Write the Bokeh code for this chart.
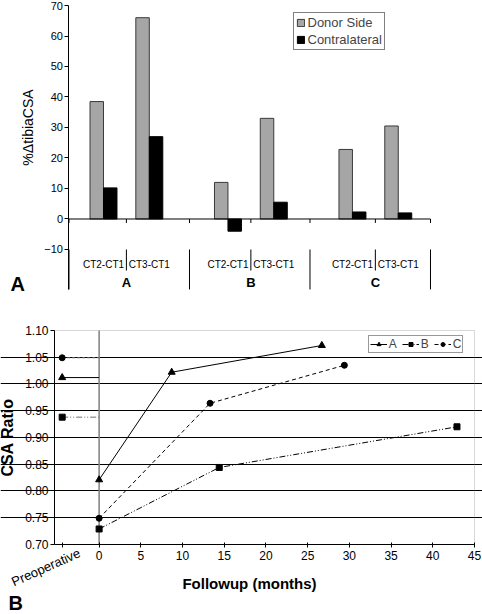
from math import pi
from bokeh.plotting import figure
from bokeh.models import (Range1d, FixedTicker, NumeralTickFormatter,
                          CustomJSTickFormatter, Legend, LegendItem, Label,
                          ColumnDataSource, BoxAnnotation)
from bokeh.layouts import column
from bokeh.core.properties import value
from bokeh.embed import file_html
from bokeh.resources import INLINE

FONT = "Liberation Sans"

# ---------------- Panel A data ----------------
GROUPS = ["A", "B", "C"]
INTERVALS = ["CT2-CT1", "CT3-CT1"]
DONOR = [38.5, 66.0, 12.0, 33.0, 22.8, 30.5]
CONTRA = [10.2, 27.0, -4.0, 5.5, 2.3, 2.0]
A_TICKS = [-10, 0, 10, 20, 30, 40, 50, 60, 70]

# ---------------- Panel B data ----------------
PREOP_X = -4.43
MONTH_TICKS = [0, 5, 10, 15, 20, 25, 30, 35, 40, 45]
RATIO_TICKS = [0.70, 0.75, 0.80, 0.85, 0.90, 0.95, 1.00, 1.05, 1.10]
GRID_TICKS = [0.75, 0.80, 0.85, 0.90, 0.95, 1.00, 1.05]
SERIES = ["A", "B", "C"]
A_MONTHS = [0, 8.7, 26.7]
A_RATIO = [0.821, 1.022, 1.072]
A_PREOP = 1.012
B_MONTHS = [0, 14.4, 42.9]
B_RATIO = [0.729, 0.844, 0.920]
B_PREOP = 0.938
C_MONTHS = [0, 13.3, 29.4]
C_RATIO = [0.749, 0.964, 1.035]
C_PREOP = 1.049

# ================= Panel A =================
# layout of the category axis (in "slot" units)
FIRST = 0.78        # centre of first bar pair from the axis
SUB_STEP = 1.036    # distance between the two interval pairs of a group
GROUP_STEP = 2.815  # distance between groups (bars)
GW = 2.725          # width of one group cell (separators)
YMIN_A, YMAX_A = A_TICKS[0], A_TICKS[-1]
Y_SEP = -23.1

centers, sub_labels = [], []
for gi, g in enumerate(GROUPS):
    for si, s in enumerate(INTERVALS):
        centers.append(FIRST + gi * GROUP_STEP + si * SUB_STEP)
        sub_labels.append(s)
group_bounds = [gi * GW for gi in range(len(GROUPS) + 1)]
mid_bounds = [FIRST + gi * GROUP_STEP + SUB_STEP / 2 for gi in range(len(GROUPS))]
XEND = group_bounds[-1]

pa = figure(width=482, height=298, x_range=Range1d(-1.549, 9.351),
            y_range=Range1d(-26.07, 71.64), output_backend="svg",
            toolbar_location=None, x_axis_location=None, title=None,
            min_border=0, min_border_left=0, min_border_right=0,
            min_border_top=0, min_border_bottom=0, frame_align=False)
pa.outline_line_color = None
pa.grid.visible = False

ya = pa.yaxis[0]
ya.fixed_location = 0
ya.bounds = (Y_SEP, YMAX_A)
ya.ticker = FixedTicker(ticks=A_TICKS)
ya.axis_line_color = "black"
ya.major_tick_out = 4
ya.major_tick_in = 0
ya.minor_tick_line_color = None
ya.major_tick_line_color = "black"
ya.major_label_standoff = 2
ya.major_label_text_font = FONT
ya.major_label_text_font_size = "11px"
ya.major_label_text_color = "black"

BW = 0.305
src = ColumnDataSource(dict(xd=[c - BW / 2 for c in centers],
                            xc=[c + BW / 2 for c in centers],
                            donor=DONOR, contra=CONTRA))
rd = pa.vbar(x="xd", top="donor", bottom=0, width=BW, source=src,
             fill_color="#a6a6a6", line_color="#3a3a3a", line_width=1)
rc = pa.vbar(x="xc", top="contra", bottom=0, width=BW, source=src,
             fill_color="black", line_color="black", line_width=1)

SEP = dict(line_color="black", line_width=1)
pa.segment(x0=[0], x1=[XEND], y0=[0], y1=[0], **SEP)          # zero line
pa.segment(x0=group_bounds, x1=group_bounds, y0=YMIN_A, y1=Y_SEP, **SEP)
pa.segment(x0=mid_bounds, x1=mid_bounds, y0=YMIN_A, y1=-16.9, **SEP)
tick_x = group_bounds + mid_bounds
pa.segment(x0=tick_x, x1=tick_x, y0=0, y1=-1.3, **SEP)

pa.text(x=centers, y=-14.92, text=sub_labels, text_align="center",
        text_baseline="middle", text_font=value(FONT), text_font_size="10px",
        text_color="black")
pa.text(x=mid_bounds, y=-20.82, text=GROUPS, text_align="center",
        text_baseline="middle", text_font=value(FONT), text_font_size="13px",
        text_font_style="bold", text_color="black")

leg_a = Legend(items=[LegendItem(label="Donor Side", renderers=[rd]),
                      LegendItem(label="Contralateral", renderers=[rc])],
               location=(292.5, 248.5), orientation="vertical",
               label_text_font=FONT, label_text_font_size="13px",
               glyph_width=9, glyph_height=9, label_height=14, label_width=8,
               label_standoff=3, spacing=2, padding=2, margin=0,
               border_line_color="black", border_line_width=1.5,
               background_fill_alpha=1)
pa.add_layout(leg_a)

pa.add_layout(Label(x=-0.938, y=30, text="%\u0394tibiaCSA", angle=pi / 2,
                    text_align="center", text_baseline="middle", text_font=FONT,
                    text_font_size="14px", text_color="black"))
pa.add_layout(Label(x=-1.323, y=-21.3, text="A", text_align="left",
                    text_baseline="middle", text_font=FONT,
                    text_font_size="20px", text_font_style="bold", text_color="black"))

# ================= Panel B =================
XMIN_B, XMAX_B = -5.35, MONTH_TICKS[-1]
YMIN_B, YMAX_B = RATIO_TICKS[0], RATIO_TICKS[-1]
pb = figure(width=482, height=316, x_range=Range1d(-11.823, 45.959),
            y_range=Range1d(0.56916, 1.1598), output_backend="svg",
            toolbar_location=None, title=None,
            min_border=0, min_border_left=0, min_border_right=0,
            min_border_top=0, min_border_bottom=0, frame_align=False)
pb.outline_line_color = None
pb.xgrid.visible = False
pb.ygrid.ticker = FixedTicker(ticks=GRID_TICKS)
pb.ygrid.bounds = (XMIN_B, XMAX_B)
pb.ygrid.grid_line_color = "black"
pb.ygrid.grid_line_width = 1

pb.add_layout(BoxAnnotation(left=XMIN_B, right=XMAX_B, bottom=YMIN_B, top=YMAX_B,
                            fill_alpha=0, line_color="#808080", line_width=1,
                            level="underlay"))

yb = pb.yaxis[0]
yb.fixed_location = XMIN_B
yb.bounds = (YMIN_B, YMAX_B)
yb.ticker = FixedTicker(ticks=RATIO_TICKS)
yb.formatter = NumeralTickFormatter(format="0.00")
yb.major_tick_out = 4
yb.major_tick_in = 0
yb.minor_tick_line_color = None
yb.major_label_standoff = 2
yb.major_label_text_font = FONT
yb.major_label_text_font_size = "12px"
yb.major_label_text_color = "black"
yb.axis_line_color = "black"

xb = pb.xaxis[0]
xb.fixed_location = YMIN_B
xb.bounds = (XMIN_B, XMAX_B)
xb.ticker = FixedTicker(ticks=[PREOP_X] + MONTH_TICKS)
xb.formatter = CustomJSTickFormatter(code="return tick < 0 ? '' : tick.toFixed(0)")
xb.major_tick_out = 3
xb.major_tick_in = 2
xb.minor_tick_line_color = None
xb.major_label_standoff = 4
xb.major_label_text_font = FONT
xb.major_label_text_font_size = "12px"
xb.major_label_text_color = "black"
xb.axis_line_color = "black"

pb.segment(x0=[0], x1=[0], y0=[YMIN_B], y1=[YMAX_B], line_color="#808080",
           line_width=1.5)

styles = {
    "A": dict(dash="solid", marker="triangle", size=7,
              pre_color="black", pre_dash="solid"),
    "B": dict(dash="6 2 1 2 1 2", marker="square", size=6,
              pre_color="#707070", pre_dash="6 2 1 2 1 2"),
    "C": dict(dash="4 3", marker="circle", size=6,
              pre_color="#707070", pre_dash="3 2"),
}
data = {"A": (A_MONTHS, A_RATIO, A_PREOP),
        "B": (B_MONTHS, B_RATIO, B_PREOP),
        "C": (C_MONTHS, C_RATIO, C_PREOP)}
items = []
for name in SERIES:
    months, ratio, preop = data[name]
    st = styles[name]
    pb.line(x=[PREOP_X, 0], y=[preop, preop], line_color=st["pre_color"],
            line_dash=st["pre_dash"], line_width=1)
    pb.scatter(x=[PREOP_X], y=[preop], marker=st["marker"], size=st["size"],
               fill_color="black", line_color="black")
    ln = pb.line(x=months, y=ratio, line_color="black", line_dash=st["dash"],
                 line_width=1)
    sc = pb.scatter(x=months, y=ratio, marker=st["marker"], size=st["size"],
                    fill_color="black", line_color="black")
    items.append(LegendItem(label=name, renderers=[ln, sc]))

leg_b = Legend(items=items, location=(367.7, 261), orientation="horizontal",
               label_text_font=FONT, label_text_font_size="12px",
               glyph_width=17, glyph_height=10, label_height=12, label_width=8,
               label_standoff=2, spacing=5, padding=1, margin=0,
               border_line_color="#333333", border_line_width=1,
               background_fill_alpha=1)
pb.add_layout(leg_b)

pb.add_layout(Label(x=-10.924, y=0.90, text="CSA Ratio", angle=pi / 2,
                    text_align="center", text_baseline="middle", text_font=FONT,
                    text_font_size="16px", text_font_style="bold", text_color="black"))
pb.add_layout(Label(x=18.03, y=0.6271, text="Followup (months)", text_align="center",
                    text_baseline="middle", text_font=FONT, text_font_size="15px",
                    text_font_style="bold", text_color="black"))
pb.add_layout(Label(x=-2.35, y=0.6855, text="Preoperative", angle=0.42,
                    angle_units="rad", text_align="right", text_baseline="middle",
                    text_font=FONT, text_font_size="13px", text_color="black"))
pb.add_layout(Label(x=-10.864, y=0.5905, text="B", text_align="left",
                    text_baseline="middle", text_font=FONT, text_font_size="20px",
                    text_font_style="bold", text_color="black"))

layout = column(pa, pb, spacing=0)
open("out.html", "w").write(file_html(layout, INLINE))
